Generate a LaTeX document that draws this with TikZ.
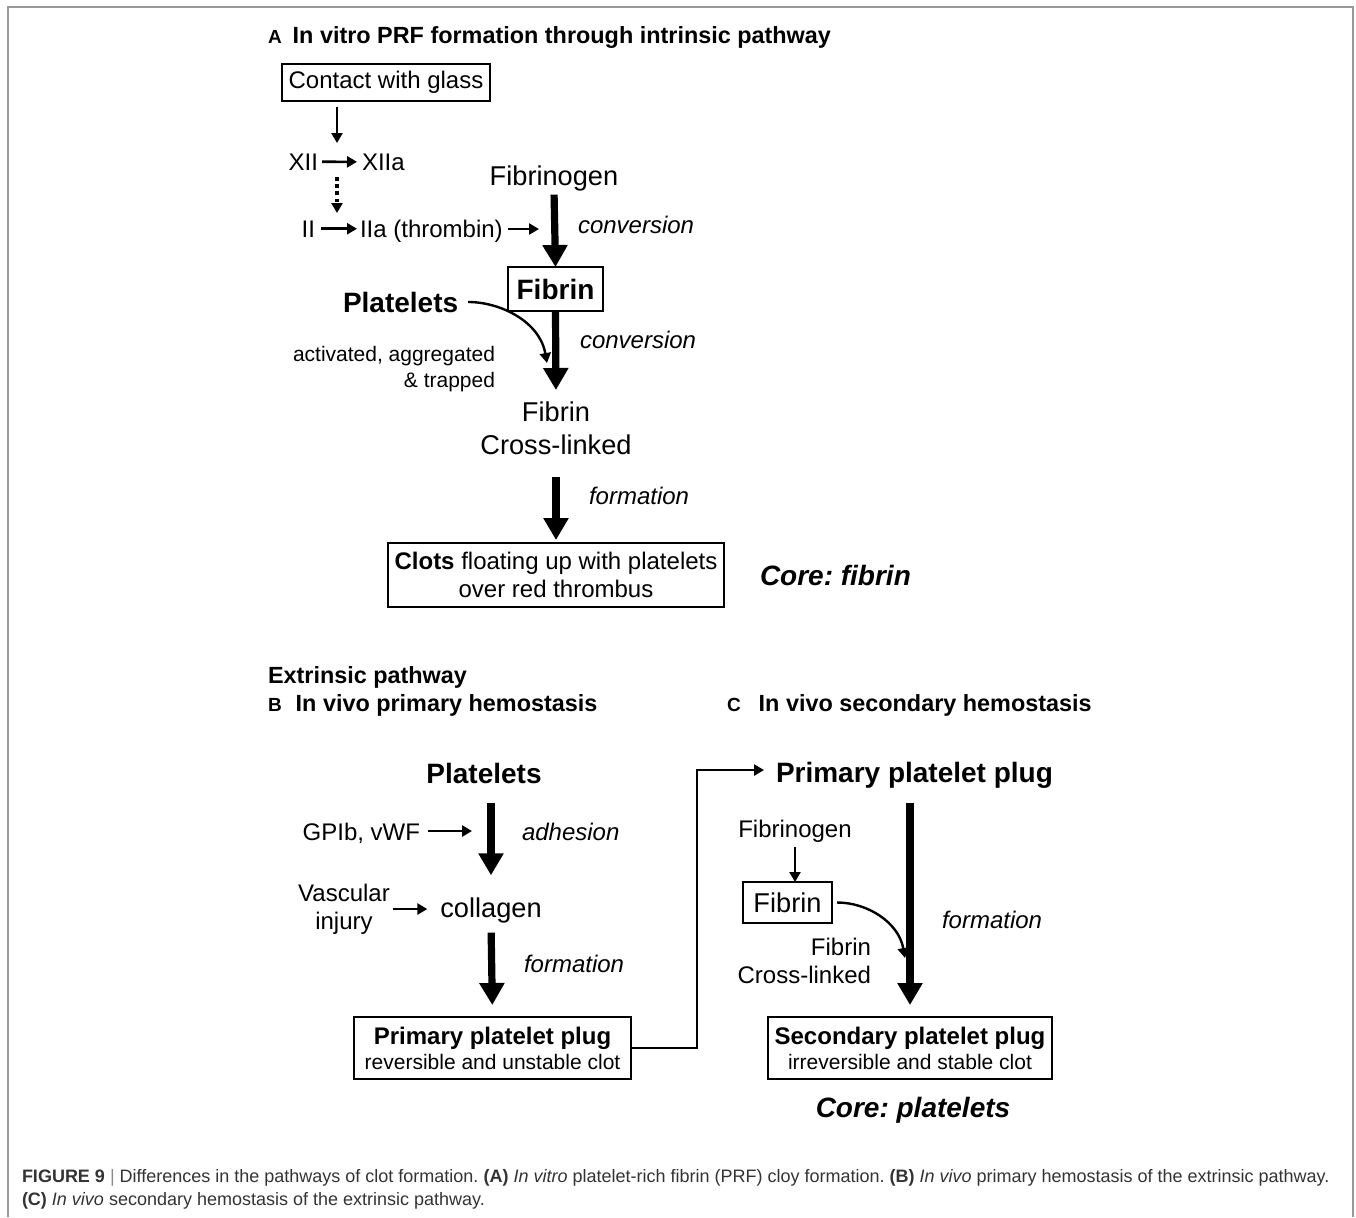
\documentclass[tikz,border=0pt]{standalone}
\usepackage{fontspec}
\setmainfont{Liberation Sans}
\newfontfamily\capfont{Liberation Sans}
\usetikzlibrary{arrows.meta}
\definecolor{capgray}{HTML}{333333}
\frenchspacing
\begin{document}
\begin{tikzpicture}[x=0.5pt,y=-0.5pt,
    every node/.style={inner sep=0pt,outer sep=0pt},
    txt/.style={font=\fontsize{12}{14}\selectfont},
    big/.style={font=\fontsize{13.6}{16.5}\selectfont},
    bigb/.style={font=\bfseries\fontsize{14}{17}\selectfont},
    lbl/.style={font=\itshape\fontsize{12}{14}\selectfont,anchor=base west},
    note/.style={font=\fontsize{10.5}{13}\selectfont},
    core/.style={font=\bfseries\itshape\fontsize{14}{17}\selectfont},
    head/.style={font=\bfseries\fontsize{11.7}{14}\selectfont,anchor=base west},
    box/.style={draw,line width=0.6pt,align=center},
    fat/.style={line width=3.6pt,-{Triangle[width=12pt,length=11pt]}},
    lean/.style={line width=1.3pt,-{Triangle[width=5.5pt,length=5pt]}},
  ]
  \useasboundingbox (0,0) rectangle (1356,1217);
  \draw[black!40,line width=1pt] (8,1217) -- (8,7) -- (1353,7) -- (1353,1217);

  % A: in vitro
  \node[head] (titlea) at (268,43) {{\fontsize{9.5}{11}\selectfont A}\hspace{5.5pt}In vitro PRF formation through intrinsic pathway};
  \node[box,txt,minimum width=104pt,minimum height=18.5pt] (contact) at (386,82.5) {Contact with glass};
  \node[txt,anchor=base east] (xii) at (318,170) {XII};
  \node[txt,anchor=base west] (xiia) at (362,170) {XIIa};
  \node[txt,anchor=base east] (ii) at (315,237) {II};
  \node[txt,anchor=base west] (iia) at (360,237) {IIa (thrombin)};
  \coordinate (a1) at (337,143);
  \coordinate (d1) at (337,177);
  \coordinate (d2) at (337,213);
  \coordinate (a2) at (539,229);
  \draw[lean,shorten <=3pt] (contact.south -| a1) -- (a1);
  \draw[lean,shorten <=2pt,shorten >=2.5pt] (xii.east) -- (xiia.west);
  \draw[lean,line width=1.8pt,dash pattern=on 1.8pt off 1.8pt] (d1) -- (d2);
  \draw[lean,shorten <=3pt,shorten >=1.5pt] (ii.east) -- (ii.east -| iia.west);
  \draw[lean,shorten <=2.5pt] (iia.east |- a2) -- (a2);

  \node[big,anchor=base] (fbg) at (554,185) {Fibrinogen};
  \node[box,bigb,minimum width=47.5pt,minimum height=22pt] (fib) at (555.5,289) {Fibrin};
  \node[bigb,anchor=base west] (plt) at (343,312) {Platelets};
  \node[note,align=right,anchor=north east] (act) at (495,346) {activated, aggregated\\\& trapped};
  \node[big,align=center,anchor=north] (xfib) at (556,402) {Fibrin\\Cross-linked};
  \node[box,txt,minimum width=168pt,minimum height=32pt] (clots) at (556,575) {\textbf{Clots} floating up with platelets\\over red thrombus};
  \node[core,anchor=base west] (corea) at (760,585) {Core: fibrin};
  \node[lbl] (conv1) at (578,233) {conversion};
  \node[lbl] (conv2) at (580,348) {conversion};
  \node[lbl] (forma) at (589,504) {formation};
  \coordinate (ta) at (547,363);
  \draw[fat,shorten <=2pt] (fbg.south) -- (fib.north);
  \draw[fat,shorten <=0.5pt,shorten >=6pt] (fib.south) -- (xfib.north);
  \draw[fat,shorten <=11pt,shorten >=1.5pt] (xfib.south -| clots) -- (clots.north);
  \draw[lean,line width=1.2pt,shorten <=5pt] (plt.east) to[out=0,in=100] (ta);

  % B: primary hemostasis
  \node[head] (ext) at (268,683) {Extrinsic pathway};
  \node[head] (titleb) at (268,711) {{\fontsize{9.5}{11}\selectfont B}\hspace{7pt}In vivo primary hemostasis};
  \node[bigb,anchor=base] (pltb) at (484,783) {Platelets};
  \node[txt,anchor=base east] (gp) at (420,840) {GPIb, vWF};
  \node[lbl] (adh) at (522,840) {adhesion};
  \node[txt,align=center] (vasc) at (344,909) {Vascular\\injury};
  \node[big,anchor=base] (coll) at (491,917) {collagen};
  \node[lbl] (formb) at (524,972) {formation};
  \node[box,minimum width=138.5pt,minimum height=31pt,font=\fontsize{12}{12.5}\selectfont] (plugb) at (492.5,1048)
    {\textbf{Primary platelet plug}\\{\fontsize{10.5}{12.5}\selectfont reversible and unstable clot}};
  \coordinate (b1) at (472,831);
  \draw[fat,shorten <=10pt,shorten >=11pt] (pltb.south -| coll) -- (coll.north);
  \draw[fat,shorten <=5pt,shorten >=6pt] (coll.south) -- (plugb.north);
  \draw[lean,shorten <=4pt] (gp.east |- b1) -- (b1);
  \draw[lean,shorten <=1.5pt,shorten >=6.5pt] (vasc.east) -- (vasc.east -| coll.west);

  % C: secondary hemostasis
  \node[head] (titlec) at (727,711) {{\fontsize{9.5}{11}\selectfont C}\hspace{9pt}In vivo secondary hemostasis};
  \node[bigb,anchor=base west] (primc) at (776,782) {Primary platelet plug};
  \node[txt,anchor=base] (fbgc) at (795,837) {Fibrinogen};
  \node[box,big,minimum width=44.5pt,minimum height=20.5pt] (fibc) at (787.5,902.5) {Fibrin};
  \node[txt,align=right,anchor=north east] (xfibc) at (871,938) {Fibrin\\Cross-linked};
  \node[lbl] (formc) at (942,928) {formation};
  \node[box,minimum width=142pt,minimum height=31pt,font=\fontsize{12}{12.5}\selectfont] (plugs) at (910,1048)
    {\textbf{Secondary platelet plug}\\{\fontsize{10.5}{12.5}\selectfont irreversible and stable clot}};
  \node[core,anchor=base] (corec) at (913,1117) {Core: platelets};
  \coordinate (turn) at (697,770);
  \coordinate (tc) at (905,958);
  \draw[lean,line width=1.4pt,shorten >=6pt] (plugb.east) -| (turn) -- (turn -| primc.west);
  \draw[fat,line width=4pt,shorten <=7.5pt,shorten >=6pt] (primc.south -| plugs) -- (plugs.north);
  \draw[lean,line width=1.2pt,shorten <=2.5pt] (fbgc.south) -- (fbgc.south |- fibc.north);
  \draw[lean,line width=1.2pt,shorten <=2.5pt] (fibc.east) to[out=0,in=100] (tc);

  % caption
  \node[anchor=base west,align=left,text=capgray,font=\capfont\fontsize{9}{11.5}\selectfont] (cap) at (22,1205)
    {\textbf{FIGURE 9} {\color{black!45}|} Differences in the pathways of clot formation. \textbf{(A)} \textit{In vitro} platelet-rich fibrin (PRF) cloy formation. \textbf{(B)} \textit{In vivo} primary hemostasis of the extrinsic pathway.\\
     \textbf{(C)} \textit{In vivo} secondary hemostasis of the extrinsic pathway.};
\end{tikzpicture}
\end{document}
